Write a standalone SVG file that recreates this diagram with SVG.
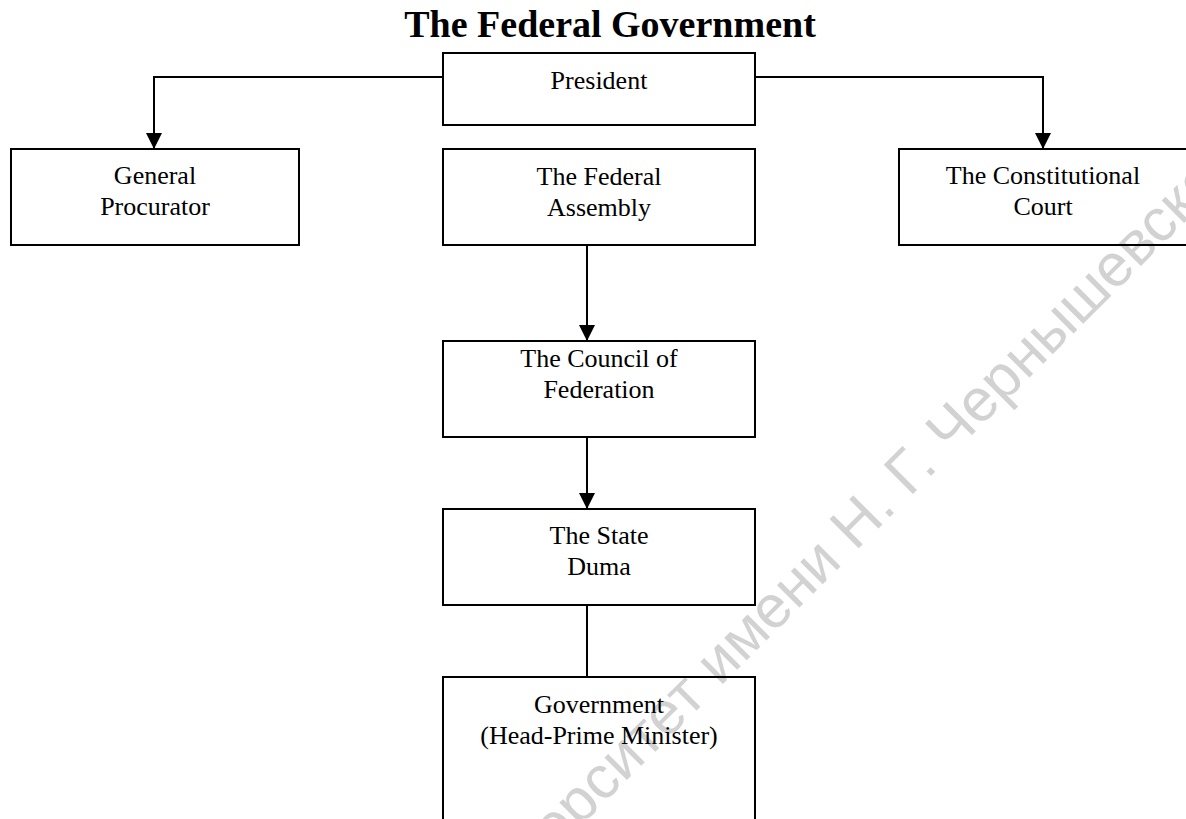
<svg xmlns="http://www.w3.org/2000/svg" width="1186" height="819" viewBox="0 0 1186 819">
<style>
.box{fill:none;stroke:#000;stroke-width:2}
.lbl{font-family:"Liberation Serif","Times New Roman",serif;font-size:26px;fill:#000;text-anchor:middle}
.title{font-family:"Liberation Serif","Times New Roman",serif;font-size:38px;font-weight:bold;fill:#000;text-anchor:middle}
.wm{font-family:"Liberation Sans",Arial,sans-serif;font-size:60px;fill:#d2d2d2}
.conn{fill:none;stroke:#000;stroke-width:2}
</style>
<defs>
<marker id="arr" markerUnits="userSpaceOnUse" markerWidth="16" markerHeight="16" refX="16" refY="8" orient="auto" viewBox="0 0 16 16">
<path d="M0,0 L16,8 L0,16 z" fill="#000"/>
</marker>
</defs>
<rect width="1186" height="819" fill="#fff"/>
<text class="wm" transform="translate(886,521) rotate(-45)"><tspan x="0" y="0" text-anchor="end">университет имени Н</tspan><tspan x="0" y="0" text-anchor="start">. Г. Чернышевского</tspan></text>
<text class="title" x="610" y="37">The Federal Government</text>
<g id="connectors">
<path class="conn" d="M443,77 H154 V149" marker-end="url(#arr)"/>
<path class="conn" d="M755,77 H1043 V149" marker-end="url(#arr)"/>
<path class="conn" d="M587,245 V341" marker-end="url(#arr)"/>
<path class="conn" d="M587,437 V509" marker-end="url(#arr)"/>
<path class="conn" d="M587,605 V677"/>
</g>
<g id="president">
<rect class="box" x="443" y="53" width="312" height="72"/>
<text class="lbl" x="599" y="89">President</text>
</g>
<g id="general-procurator">
<rect class="box" x="11" y="149" width="288" height="96"/>
<text class="lbl" x="155" y="184">General</text>
<text class="lbl" x="155" y="215">Procurator</text>
</g>
<g id="federal-assembly">
<rect class="box" x="443" y="149" width="312" height="96"/>
<text class="lbl" x="599" y="185">The Federal</text>
<text class="lbl" x="599" y="216">Assembly</text>
</g>
<g id="constitutional-court">
<rect class="box" x="899" y="149" width="288" height="96"/>
<text class="lbl" x="1043" y="184">The Constitutional</text>
<text class="lbl" x="1043" y="215">Court</text>
</g>
<g id="council-of-federation">
<rect class="box" x="443" y="341" width="312" height="96"/>
<text class="lbl" x="599" y="367">The Council of</text>
<text class="lbl" x="599" y="398">Federation</text>
</g>
<g id="state-duma">
<rect class="box" x="443" y="509" width="312" height="96"/>
<text class="lbl" x="599" y="544">The State</text>
<text class="lbl" x="599" y="575">Duma</text>
</g>
<g id="government">
<rect class="box" x="443" y="677" width="312" height="160"/>
<text class="lbl" x="599" y="713">Government</text>
<text class="lbl" x="599" y="744">(Head-Prime Minister)</text>
</g>
</svg>
